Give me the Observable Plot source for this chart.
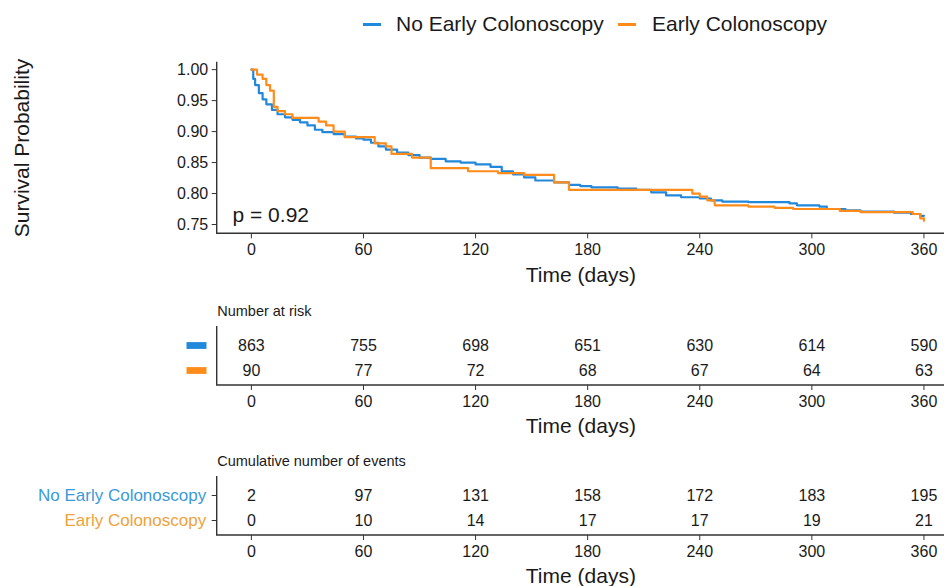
<!DOCTYPE html>
<html>
<head>
<meta charset="utf-8">
<script src="https://cdn.jsdelivr.net/npm/d3@7"></script>
<script src="https://cdn.jsdelivr.net/npm/@observablehq/plot@0.6"></script>
<style>
  body { margin: 0; background: #fff; }
  #chart { position: relative; width: 944px; height: 586px; overflow: hidden; background: #fff;
           font-family: "Liberation Sans", Arial, sans-serif; color: #1a1a1a; }
  #chart > svg, #chart > figure { position: absolute; left: 0; margin: 0; }
  .lg-sw { position: absolute; top: 23px; width: 18px; height: 2.5px; }
  .lg-tx { position: absolute; top: 12px; font-size: 21px; line-height: 24px; white-space: nowrap; }
  .ylab { position: absolute; left: 22px; top: 148px; font-size: 21px; line-height: 24px; white-space: nowrap;
          transform: translate(-50%, -50%) rotate(-90deg); }
</style>
</head>
<body>
<div id="chart"></div>
<script>
// ---------- data ----------
const groups = ["No Early Colonoscopy", "Early Colonoscopy"];
const lineColors = ["#2288DB", "#FF8C1A"];
const labelColors = ["#3A9AD9", "#EFA23A"];
const times = [0, 60, 120, 180, 240, 300, 360];
const yTicks = [0.75, 0.80, 0.85, 0.90, 0.95, 1.00];

const noEarlyTime = [0,1,2,4,6,8,11,14,18,22,26,30,34,38,44,50,56,60,64,68,72,78,84,90,96,104,112,120,128,134,140,146,152,162,170,176,182,196,206,214,222,230,240,246,252,266,288,292,304,308,318,326,344,353,358,360];
const noEarlySurv = [1.000,0.985,0.975,0.962,0.952,0.944,0.935,0.928,0.923,0.919,0.915,0.910,0.903,0.899,0.896,0.892,0.889,0.887,0.882,0.876,0.871,0.866,0.862,0.858,0.856,0.852,0.850,0.847,0.843,0.836,0.831,0.826,0.821,0.818,0.814,0.812,0.810,0.808,0.806,0.802,0.797,0.794,0.792,0.789,0.787,0.786,0.784,0.781,0.779,0.775,0.773,0.771,0.769,0.767,0.764,0.764];

const earlyTime = [0,3,6,8,10,12,14,18,22,36,40,44,50,66,72,75,86,96,116,132,146,162,170,232,236,240,244,248,266,280,290,315,326,354,358,360];
const earlySurv = [1.000,0.992,0.985,0.975,0.966,0.940,0.933,0.928,0.922,0.916,0.910,0.900,0.891,0.881,0.876,0.864,0.858,0.841,0.836,0.833,0.830,0.818,0.806,0.806,0.800,0.795,0.789,0.781,0.779,0.777,0.775,0.772,0.770,0.767,0.760,0.756];

const atRiskNoEarly = [863, 755, 698, 651, 630, 614, 590];
const atRiskEarly = [90, 77, 72, 68, 67, 64, 63];
const eventsNoEarly = [2, 97, 131, 158, 172, 183, 195];
const eventsEarly = [0, 10, 14, 17, 17, 19, 21];
const pValueLabel = "p = 0.92";
const yTitle = "Survival Probability";
const xTitle = "Time (days)";

// ---------- derived tables ----------
const survData = [
  ...noEarlyTime.map((t, i) => ({t, s: noEarlySurv[i], group: groups[0]})),
  ...earlyTime.map((t, i) => ({t, s: earlySurv[i], group: groups[1]}))
];
const riskData = [
  ...times.map((t, i) => ({t, n: atRiskNoEarly[i], group: groups[0]})),
  ...times.map((t, i) => ({t, n: atRiskEarly[i], group: groups[1]}))
];
const eventData = [
  ...times.map((t, i) => ({t, n: eventsNoEarly[i], group: groups[0]})),
  ...times.map((t, i) => ({t, n: eventsEarly[i], group: groups[1]}))
];

// ---------- layout ----------
const W = 944;
const xDomain = [-18.3, 371];
const axisColor = "#333";
const font = "'Liberation Sans', Arial, sans-serif";
const colorScale = {domain: groups, range: lineColors};

// draws left and bottom axis lines (ggplot classic theme)
function axisLines(index, scales, values, dims) {
  const {width, height, marginLeft, marginRight, marginTop, marginBottom} = dims;
  return d3.create("svg:path")
    .attr("d", `M${marginLeft},${marginTop}V${height - marginBottom}H${width - marginRight}`)
    .attr("fill", "none").attr("stroke", axisColor).attr("stroke-width", 1.4)
    .node();
}

const chart = document.getElementById("chart");

// legend
const legendPos = [[363, 396], [618, 652]];
groups.forEach((g, i) => {
  const sw = document.createElement("div");
  sw.className = "lg-sw"; sw.style.left = legendPos[i][0] + "px"; sw.style.background = lineColors[i];
  const tx = document.createElement("div");
  tx.className = "lg-tx"; tx.style.left = legendPos[i][1] + "px"; tx.textContent = g;
  chart.append(sw, tx);
});

// main survival plot
const main = Plot.plot({
  width: W, height: 240,
  marginLeft: 216.7, marginRight: 0, marginTop: 11.7, marginBottom: 56.7,
  x: {domain: xDomain},
  y: {domain: [0.735, 1.012]},
  color: colorScale,
  style: {fontFamily: font, fontSize: "16px", color: "#1a1a1a", background: "transparent"},
  marks: [
    Plot.axisX({ticks: times, tickSize: 5, tickPadding: 5, label: null, stroke: axisColor}),
    Plot.axisY({ticks: yTicks, tickFormat: ".2f", tickSize: 5, tickPadding: 4, label: null, stroke: axisColor}),
    axisLines,
    Plot.line(survData, {x: "t", y: "s", z: "group", stroke: "group", curve: "step-after", strokeWidth: 2.2}),
    Plot.text([pValueLabel], {text: d => d, frameAnchor: "bottom-left", lineAnchor: "middle", textAnchor: "start", dx: 15.3, dy: -18.3, fontSize: 21}),
    Plot.text([xTitle], {text: d => d, frameAnchor: "bottom", lineAnchor: "middle", dy: 41, fontSize: 21})
  ]
});
main.style.top = "50px";
chart.append(main);

const ylab = document.createElement("div");
ylab.className = "ylab"; ylab.textContent = yTitle;
chart.append(ylab);

// custom rectangle symbol for the risk table keys
const barSymbol = {draw(ctx) { ctx.moveTo(-10, -3.4); ctx.lineTo(10, -3.4); ctx.lineTo(10, 3.4); ctx.lineTo(-10, 3.4); ctx.closePath(); }};

function table(data, title, top, height, withLabels) {
  const marks = [
    Plot.axisX({ticks: times, tickSize: 5, tickPadding: 5, label: null, stroke: axisColor}),
    axisLines,
    Plot.text(data, {x: "t", y: "group", text: "n", fontSize: 16, fill: "#1a1a1a"}),
    Plot.text([title], {text: d => d, frameAnchor: "top-left", lineAnchor: "middle", textAnchor: "start", dy: -15, fontSize: 14.5}),
    Plot.text([xTitle], {text: d => d, frameAnchor: "bottom", lineAnchor: "middle", dy: 41, fontSize: 21})
  ];
  if (withLabels) {
    marks.push(Plot.axisY({tickSize: 5, tickFormat: () => "", label: null, stroke: axisColor}));
    groups.forEach((g, i) => marks.push(
      Plot.text([g], {y: d => d, text: d => d, frameAnchor: "left", textAnchor: "end", dx: -11, fontSize: 17, fill: labelColors[i]})
    ));
  } else {
    marks.push(Plot.dot(groups, {y: d => d, frameAnchor: "left", dx: -20.7, symbol: barSymbol, fill: d => d, stroke: "none"}));
  }
  const p = Plot.plot({
    width: W, height,
    marginLeft: 216.7, marginRight: 0, marginTop: 36, marginBottom: height - 95,
    x: {domain: xDomain},
    y: {type: "point", domain: groups, range: [55, 80], padding: 0, axis: withLabels ? undefined : null},
    color: colorScale,
    style: {fontFamily: font, fontSize: "16px", color: "#1a1a1a", background: "transparent"},
    marks
  });
  p.style.top = top + "px";
  return p;
}

chart.append(table(riskData, "Number at risk", 290, 150, false));
chart.append(table(eventData, "Cumulative number of events", 440, 150, true));
</script>
</body>
</html>
